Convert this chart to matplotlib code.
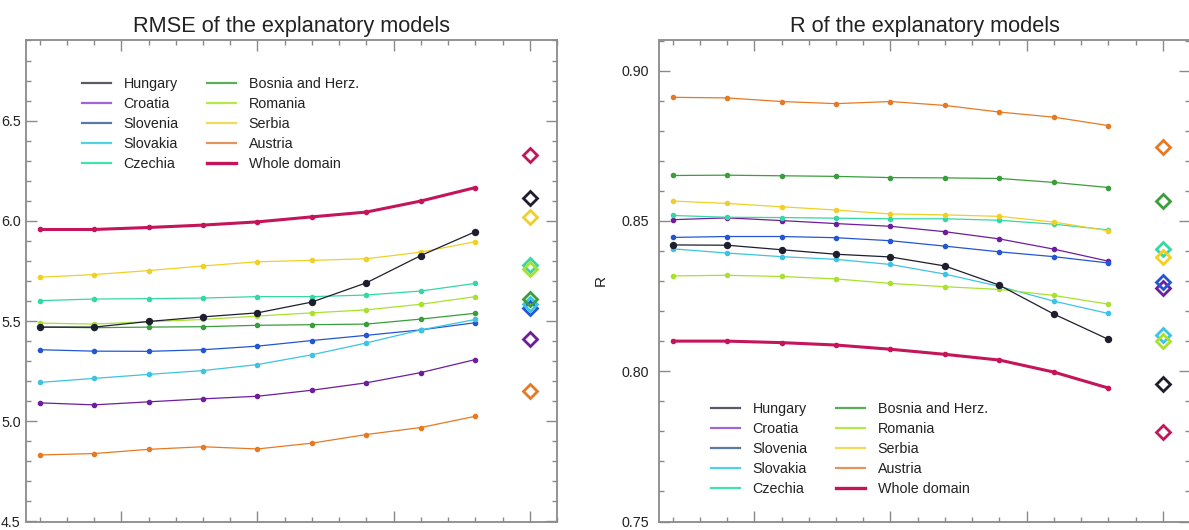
import matplotlib
matplotlib.use("Agg")
import matplotlib.pyplot as plt
from matplotlib.lines import Line2D
from matplotlib.ticker import MultipleLocator, FormatStrFormatter

plt.rcParams['font.family'] = ['Liberation Sans', 'DejaVu Sans']

steps = [1, 2, 3, 4, 5, 6, 7, 8, 9]
diamond_x = 10

countries = ["Hungary", "Croatia", "Slovenia", "Slovakia", "Czechia",
             "Bosnia and Herz.", "Romania", "Serbia", "Austria", "Whole domain"]

colors = {
    "Hungary": "#1e1e2e", "Croatia": "#6e1d9c", "Slovenia": "#2456d4",
    "Slovakia": "#3cc4e2", "Czechia": "#34d8a4", "Bosnia and Herz.": "#3a9e3c",
    "Romania": "#a8e22e", "Serbia": "#f0d026", "Austria": "#e67a24",
    "Whole domain": "#c4145a",
}
legend_colors = {
    "Hungary": "#5a5a66", "Croatia": "#a066d6", "Slovenia": "#5a7aa6",
    "Slovakia": "#50d4e4", "Czechia": "#40e4a8", "Bosnia and Herz.": "#5aae5a",
    "Romania": "#b6e84a", "Serbia": "#f2da5a", "Austria": "#e2945a",
    "Whole domain": "#c4145a",
}

# RMSE values
rmse_hungary = [5.470, 5.470, 5.498, 5.521, 5.541, 5.595, 5.691, 5.827, 5.946]
rmse_croatia = [5.092, 5.082, 5.097, 5.112, 5.125, 5.155, 5.192, 5.243, 5.308]
rmse_slovenia = [5.357, 5.350, 5.349, 5.357, 5.375, 5.403, 5.429, 5.456, 5.492]
rmse_slovakia = [5.194, 5.214, 5.234, 5.253, 5.283, 5.332, 5.391, 5.456, 5.508]
rmse_czechia = [5.602, 5.610, 5.612, 5.615, 5.622, 5.622, 5.630, 5.650, 5.688]
rmse_bosnia = [5.470, 5.467, 5.470, 5.472, 5.479, 5.482, 5.485, 5.510, 5.539]
rmse_romania = [5.490, 5.485, 5.497, 5.508, 5.525, 5.541, 5.556, 5.584, 5.622]
rmse_serbia = [5.719, 5.732, 5.752, 5.775, 5.796, 5.803, 5.811, 5.844, 5.896]
rmse_austria = [4.832, 4.839, 4.860, 4.873, 4.862, 4.891, 4.934, 4.969, 5.025]
rmse_whole = [5.957, 5.957, 5.967, 5.979, 5.995, 6.020, 6.044, 6.099, 6.166]
rmse_diamond = [6.115, 5.410, 5.565, 5.585, 5.780, 5.610, 5.760, 6.020, 5.150, 6.330]

# R values
r_hungary = [0.8420, 0.8419, 0.8404, 0.8389, 0.8380, 0.8350, 0.8286, 0.8190, 0.8106]
r_croatia = [0.8504, 0.8510, 0.8501, 0.8491, 0.8482, 0.8464, 0.8440, 0.8406, 0.8366]
r_slovenia = [0.8445, 0.8448, 0.8448, 0.8444, 0.8434, 0.8416, 0.8397, 0.8381, 0.8360]
r_slovakia = [0.8407, 0.8393, 0.8381, 0.8372, 0.8355, 0.8323, 0.8282, 0.8233, 0.8192]
r_czechia = [0.8518, 0.8512, 0.8511, 0.8509, 0.8507, 0.8507, 0.8502, 0.8489, 0.8470]
r_bosnia = [0.8651, 0.8652, 0.8650, 0.8648, 0.8644, 0.8643, 0.8641, 0.8628, 0.8611]
r_romania = [0.8317, 0.8319, 0.8315, 0.8307, 0.8292, 0.8281, 0.8272, 0.8252, 0.8223]
r_serbia = [0.8566, 0.8558, 0.8547, 0.8536, 0.8523, 0.8520, 0.8515, 0.8496, 0.8467]
r_austria = [0.8911, 0.8909, 0.8897, 0.8890, 0.8897, 0.8884, 0.8862, 0.8845, 0.8817]
r_whole = [0.8100, 0.8100, 0.8095, 0.8087, 0.8073, 0.8056, 0.8037, 0.7997, 0.7944]
r_diamond = [0.7958, 0.8277, 0.8297, 0.8122, 0.8405, 0.8565, 0.8102, 0.8380, 0.8745, 0.7797]

rmse_series = [rmse_hungary, rmse_croatia, rmse_slovenia, rmse_slovakia, rmse_czechia,
               rmse_bosnia, rmse_romania, rmse_serbia, rmse_austria, rmse_whole]
r_series = [r_hungary, r_croatia, r_slovenia, r_slovakia, r_czechia,
            r_bosnia, r_romania, r_serbia, r_austria, r_whole]

W, H = 1189, 530
fig = plt.figure(figsize=(W / 100, H / 100), dpi=100)

ax_w = 531 / W
ax_h = 481 / H
ax_b = 8.5 / H
ax1 = fig.add_axes([26 / W, ax_b, ax_w, ax_h])
ax2 = fig.add_axes([659 / W, ax_b, ax_w, ax_h])

frame_col = "#8a8a8a"
text_col = "#222222"


def draw(ax, series, diamonds, ylim, major, minor, fmt, title, legend_anchor, ypad):
    for name, vals, dv in zip(countries, series, diamonds):
        c = colors[name]
        if name == "Whole domain":
            ax.plot(steps, vals, color=c, lw=2.2, marker='o', ms=3, zorder=4)
        elif name == "Hungary":
            ax.plot(steps, vals, color=c, lw=0.9, marker='o', ms=4.3, zorder=3)
        else:
            ax.plot(steps, vals, color=c, lw=0.9, marker='o', ms=3.0, zorder=2)
        ax.plot([diamond_x], [dv], linestyle='none', marker='D', ms=7.5,
                mfc='none', mec=c, mew=2.0, zorder=5)
    ax.set_xlim(0.75, 10.5)
    ax.set_ylim(*ylim)
    ax.xaxis.set_major_locator(MultipleLocator(2.5))
    ax.xaxis.set_minor_locator(MultipleLocator(0.5))
    ax.yaxis.set_major_locator(MultipleLocator(major))
    ax.yaxis.set_minor_locator(MultipleLocator(minor))
    ax.yaxis.set_major_formatter(FormatStrFormatter(fmt))
    ax.tick_params(axis='both', which='both', direction='in', top=True, right=True,
                   color=frame_col, width=1.0)
    ax.tick_params(axis='both', which='major', length=8)
    ax.tick_params(axis='both', which='minor', length=3.8)
    ax.tick_params(axis='y', which='major', labelsize=10.3, labelcolor=text_col, pad=ypad)
    ax.tick_params(axis='x', which='both', labelbottom=False)
    for s in ax.spines.values():
        s.set_color(frame_col)
        s.set_linewidth(1.3)
    ax.set_title(title, fontsize=15.7, color=text_col, pad=6)
    handles = []
    for name in countries:
        lw = 2.4 if name == "Whole domain" else 1.6
        handles.append(Line2D([0], [0], color=legend_colors[name], lw=lw))
    ax.legend(handles, countries, ncol=2, loc='upper left', bbox_to_anchor=legend_anchor,
              frameon=False, fontsize=10.3, handlelength=2.0, handletextpad=0.9,
              columnspacing=2.0, labelspacing=0.42, borderpad=0, borderaxespad=0,
              labelcolor=text_col)


draw(ax1, rmse_series, rmse_diamond, (4.5, 6.9), 0.5, 0.1, '%.1f',
     "RMSE of the explanatory models", (0.1055, 0.925), 3.8)
draw(ax2, r_series, r_diamond, (0.75, 0.91), 0.05, 0.01, '%.2f',
     "R of the explanatory models", (0.098, 0.249), 7)
ax2.set_ylabel("R", fontsize=11, color=text_col)
ax2.yaxis.set_label_coords(-0.097, 0.5)

fig.savefig("out.png", dpi=100)
